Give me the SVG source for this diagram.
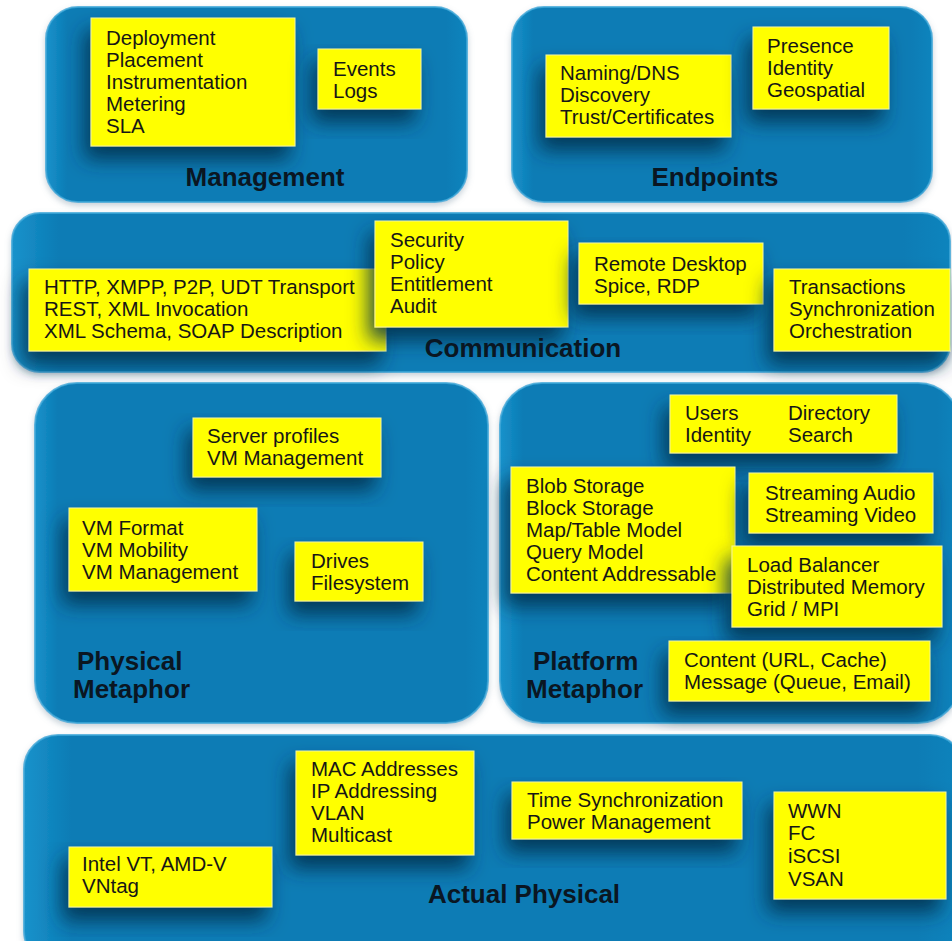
<svg xmlns="http://www.w3.org/2000/svg" width="952" height="941" viewBox="0 0 952 941">
<style>
.panel{fill:url(#pg);stroke:#3fa8d8;stroke-width:2;stroke-opacity:0.8}
.box{fill:#ffff00;stroke:#f4f4a0;stroke-width:1;filter:url(#sh)}
.t{font-family:"Liberation Sans",Arial,sans-serif;font-size:20.5px;fill:#161616}
.h{font-family:"Liberation Sans",Arial,sans-serif;font-size:26px;font-weight:bold;fill:#0a1622}
</style>
<defs>
<linearGradient id="pg" x1="0" y1="0" x2="1" y2="0">
<stop offset="0" stop-color="#1a92cb"/>
<stop offset="0.05" stop-color="#097cb5"/>
<stop offset="0.95" stop-color="#097cb5"/>
<stop offset="1" stop-color="#0d84bd"/>
</linearGradient>
<filter id="sh" x="-30%" y="-30%" width="160%" height="180%">
<feGaussianBlur in="SourceAlpha" stdDeviation="10"/>
<feOffset dx="-6" dy="13" result="b"/>
<feFlood flood-color="#002e4a" flood-opacity="0.85"/>
<feComposite in2="b" operator="in"/>
<feMerge><feMergeNode/><feMergeNode in="SourceGraphic"/></feMerge>
</filter>
<filter id="ps" x="-5%" y="-5%" width="110%" height="115%">
<feGaussianBlur in="SourceAlpha" stdDeviation="3"/>
<feOffset dx="0" dy="3" result="b"/>
<feFlood flood-color="#8aa0b0" flood-opacity="0.5"/>
<feComposite in2="b" operator="in"/>
<feMerge><feMergeNode/><feMergeNode in="SourceGraphic"/></feMerge>
</filter>
</defs>
<rect width="952" height="941" fill="#ffffff"/>

<g id="management">
<rect class="panel" x="46" y="7" width="421" height="195" rx="32" filter="url(#ps)"/>
<rect class="box" x="91" y="18" width="204" height="128"/>
<text class="t" x="106" y="45"><tspan x="106">Deployment</tspan><tspan x="106" dy="22">Placement</tspan><tspan x="106" dy="22">Instrumentation</tspan><tspan x="106" dy="22">Metering</tspan><tspan x="106" dy="22">SLA</tspan></text>
<rect class="box" x="318" y="49" width="103" height="60"/>
<text class="t" x="333" y="76"><tspan x="333">Events</tspan><tspan x="333" dy="22">Logs</tspan></text>
<text class="h" x="265" y="186" text-anchor="middle">Management</text>
</g>

<g id="endpoints">
<rect class="panel" x="512" y="7" width="420" height="195" rx="32" filter="url(#ps)"/>
<rect class="box" x="546" y="55" width="185" height="82"/>
<text class="t" x="560" y="80"><tspan x="560">Naming/DNS</tspan><tspan x="560" dy="22">Discovery</tspan><tspan x="560" dy="22">Trust/Certificates</tspan></text>
<rect class="box" x="753" y="27" width="136" height="82"/>
<text class="t" x="767" y="53"><tspan x="767">Presence</tspan><tspan x="767" dy="22">Identity</tspan><tspan x="767" dy="22">Geospatial</tspan></text>
<text class="h" x="715" y="186" text-anchor="middle">Endpoints</text>
</g>

<g id="communication">
<rect class="panel" x="12" y="213" width="938" height="159" rx="28" filter="url(#ps)"/>
<rect class="box" x="29" y="269" width="357" height="82"/>
<text class="t" x="44" y="294"><tspan x="44">HTTP, XMPP, P2P, UDT Transport</tspan><tspan x="44" dy="22">REST, XML Invocation</tspan><tspan x="44" dy="22">XML Schema, SOAP Description</tspan></text>
<rect class="box" x="375" y="221" width="193" height="106"/>
<text class="t" x="390" y="247"><tspan x="390">Security</tspan><tspan x="390" dy="22">Policy</tspan><tspan x="390" dy="22">Entitlement</tspan><tspan x="390" dy="22">Audit</tspan></text>
<rect class="box" x="579" y="243" width="184" height="61"/>
<text class="t" x="594" y="271"><tspan x="594">Remote Desktop</tspan><tspan x="594" dy="22">Spice, RDP</tspan></text>
<rect class="box" x="774" y="269" width="176" height="82"/>
<text class="t" x="789" y="294"><tspan x="789">Transactions</tspan><tspan x="789" dy="22">Synchronization</tspan><tspan x="789" dy="22">Orchestration</tspan></text>
<text class="h" x="523" y="357" text-anchor="middle">Communication</text>
</g>

<g id="physical-metaphor">
<rect class="panel" x="35" y="383" width="453" height="340" rx="42" filter="url(#ps)"/>
<rect class="box" x="193" y="418" width="188" height="59"/>
<text class="t" x="207" y="443"><tspan x="207">Server profiles</tspan><tspan x="207" dy="22">VM Management</tspan></text>
<rect class="box" x="69" y="508" width="188" height="83"/>
<text class="t" x="82" y="535"><tspan x="82">VM Format</tspan><tspan x="82" dy="22">VM Mobility</tspan><tspan x="82" dy="22">VM Management</tspan></text>
<rect class="box" x="295" y="542" width="128" height="59"/>
<text class="t" x="311" y="568"><tspan x="311">Drives</tspan><tspan x="311" dy="22">Filesystem</tspan></text>
<text class="h" x="77" y="670">Physical</text>
<text class="h" x="73" y="698">Metaphor</text>
</g>

<g id="platform-metaphor">
<rect class="panel" x="500" y="383" width="460" height="340" rx="42" filter="url(#ps)"/>
<rect class="box" x="670" y="395" width="227" height="58"/>
<text class="t" x="685" y="420"><tspan x="685">Users</tspan><tspan x="685" dy="22">Identity</tspan></text>
<text class="t" x="788" y="420"><tspan x="788">Directory</tspan><tspan x="788" dy="22">Search</tspan></text>
<rect class="box" x="511" y="467" width="224" height="126"/>
<text class="t" x="526" y="493"><tspan x="526">Blob Storage</tspan><tspan x="526" dy="22">Block Storage</tspan><tspan x="526" dy="22">Map/Table Model</tspan><tspan x="526" dy="22">Query Model</tspan><tspan x="526" dy="22">Content Addressable</tspan></text>
<rect class="box" x="749" y="473" width="184" height="60"/>
<text class="t" x="765" y="500"><tspan x="765">Streaming Audio</tspan><tspan x="765" dy="22">Streaming Video</tspan></text>
<rect class="box" x="732" y="546" width="210" height="81"/>
<text class="t" x="747" y="572"><tspan x="747">Load Balancer</tspan><tspan x="747" dy="22">Distributed Memory</tspan><tspan x="747" dy="22">Grid / MPI</tspan></text>
<rect class="box" x="669" y="641" width="261" height="60"/>
<text class="t" x="684" y="667"><tspan x="684">Content (URL, Cache)</tspan><tspan x="684" dy="22">Message (Queue, Email)</tspan></text>
<text class="h" x="533" y="670">Platform</text>
<text class="h" x="526" y="698">Metaphor</text>
</g>

<g id="actual-physical">
<rect class="panel" x="24" y="735" width="940" height="230" rx="34" filter="url(#ps)"/>
<rect class="box" x="296" y="751" width="178" height="104"/>
<text class="t" x="311" y="776"><tspan x="311">MAC Addresses</tspan><tspan x="311" dy="22">IP Addressing</tspan><tspan x="311" dy="22">VLAN</tspan><tspan x="311" dy="22">Multicast</tspan></text>
<rect class="box" x="512" y="782" width="230" height="57"/>
<text class="t" x="527" y="807"><tspan x="527">Time Synchronization</tspan><tspan x="527" dy="22">Power Management</tspan></text>
<rect class="box" x="774" y="792" width="172" height="107"/>
<text class="t" x="788" y="818"><tspan x="788">WWN</tspan><tspan x="788" dy="22">FC</tspan><tspan x="788" dy="23">iSCSI</tspan><tspan x="788" dy="23">VSAN</tspan></text>
<rect class="box" x="69" y="847" width="203" height="60"/>
<text class="t" x="82" y="871"><tspan x="82">Intel VT, AMD-V</tspan><tspan x="82" dy="22">VNtag</tspan></text>
<text class="h" x="524" y="903" text-anchor="middle">Actual Physical</text>
</g>

<g id="connectors"/>
</svg>
